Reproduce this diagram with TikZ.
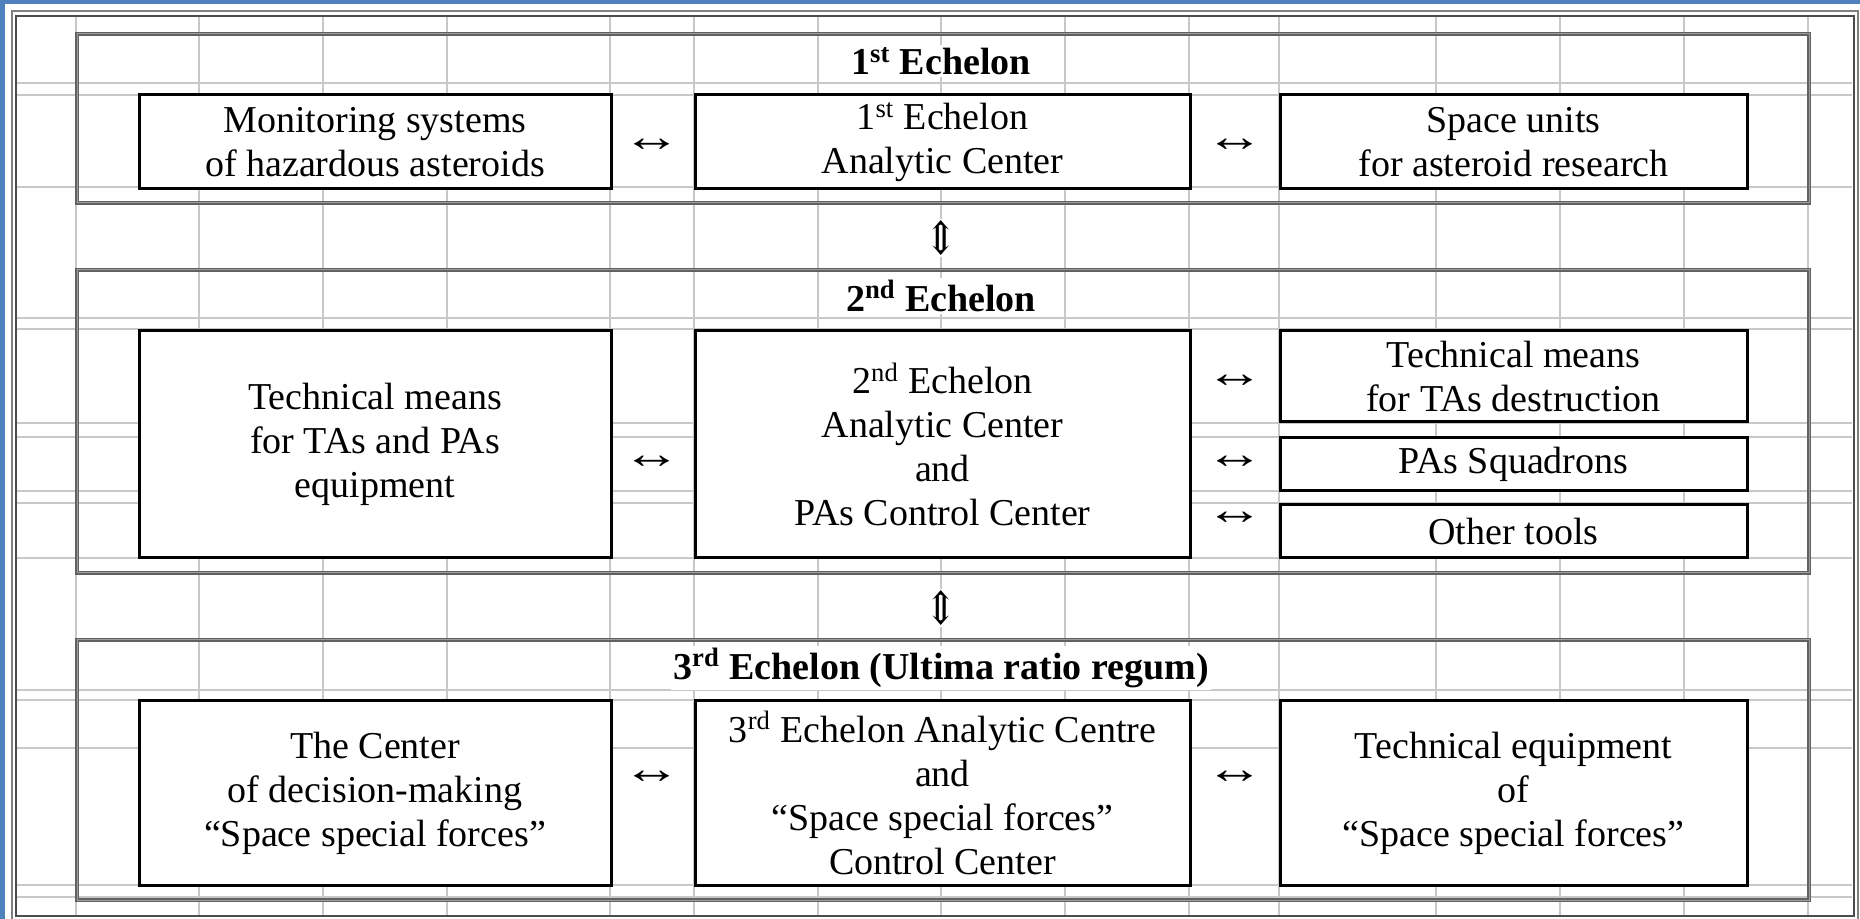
\documentclass[tikz,border=0pt]{standalone}
\usepackage{fontspec}
\setmainfont{Liberation Serif}
\newfontfamily\arrowfont{DejaVu Serif}
\definecolor{winblue}{RGB}{79,129,189}
\definecolor{gridgray}{RGB}{200,200,200}
\begin{document}
\begin{tikzpicture}[x=0.5pt,y=-0.5pt,
  gridline/.style={draw=gridgray, line width=0.8pt},
  echelon/.style={draw=black!62, double=black!38, line width=0.8pt, double distance=0.5pt},
  unit/.style={draw=black, line width=1.5pt, fill=white, align=center, inner sep=0pt,
    font=\fontsize{19}{22}\selectfont},
  title/.style={font=\bfseries\fontsize{19}{22}\selectfont, fill=white, inner sep=1pt},
  link/.style={font=\fontsize{19}{22}\selectfont, inner sep=0pt},
  updown/.style={font=\arrowfont\fontsize{19}{22}\selectfont, fill=white, inner sep=1pt}
]
\newcommand{\lr}{\scalebox{1.55}[1.15]{↔}}
\newcommand{\ud}{\scalebox{1.05}[1.2]{⇕}}
\useasboundingbox (0,0) rectangle (1860,919);
\fill[white] (0,0) rectangle (1860,919);

% window edge
\fill[winblue] (0,0) rectangle (1860,4.5);
\fill[winblue] (0,0) rectangle (4.5,919);

% page border (two rules)
\draw[draw=black!50, line width=1pt] (11.5,11.5) rectangle (1858,930);
\draw[draw=black!70, line width=1pt] (16,16) rectangle (1853.5,916);

% table grid
\foreach \gx in {76,199,323,447,610,694,818,941,1065,1189,1279,1436,1560,1684,1808}
  \draw[gridline] (\gx,17) -- (\gx,915);
\foreach \gy in {83,95,187,318,329,423,437,491,503,558,690,700,748,885,897}
  \draw[gridline] (17,\gy) -- (1852,\gy);

% echelon frames
\draw[echelon] (77,34) rectangle (1809,203);
\draw[echelon] (77,270) rectangle (1809,573);
\draw[echelon] (77,640) rectangle (1809,900);

% 1st echelon
\node[title] (t1) at (941,61) {1\textsuperscript{st} Echelon};
\node[unit, minimum width=236pt, minimum height=47pt] (a1) at (375,142)
  {Monitoring systems\\of hazardous asteroids};
\node[unit, minimum width=247.5pt, minimum height=47pt] (b1) at (942.5,142)
  {1\textsuperscript{st} Echelon\\Analytic Center};
\node[unit, minimum width=233.5pt, minimum height=47pt] (c1) at (1513.5,142)
  {Space units\\for asteroid research};
\node[link] (l1ab) at (652,145) {\lr};
\node[link] (l1bc) at (1235,145) {\lr};

\node[updown] (v12) at (941,238) {\ud};

% 2nd echelon
\node[title] (t2) at (941,296) {2\textsuperscript{nd} Echelon};
\node[unit, minimum width=236pt, minimum height=113.5pt] (a2) at (375,444.5)
  {Technical means\\for TAs and PAs\\equipment};
\node[unit, minimum width=247.5pt, minimum height=113.5pt] (b2) at (942.5,444.5)
  {2\textsuperscript{nd} Echelon\\Analytic Center\\and\\PAs Control Center};
\node[unit, minimum width=233.5pt, minimum height=45.5pt] (c21) at (1513.5,376.5)
  {Technical means\\for TAs destruction};
\node[unit, minimum width=233.5pt, minimum height=26.5pt] (c22) at (1513.5,464.5)
  {PAs Squadrons};
\node[unit, minimum width=233.5pt, minimum height=26.5pt] (c23) at (1513.5,531.5)
  {Other tools};
\node[link] (l2ab) at (652,462) {\lr};
\node[link] (l2c1) at (1235,381) {\lr};
\node[link] (l2c2) at (1235,462) {\lr};
\node[link] (l2c3) at (1235,518) {\lr};

\node[updown] (v23) at (941,608) {\ud};

% 3rd echelon
\node[title] (t3) at (941,668) {3\textsuperscript{rd} Echelon (Ultima ratio regum)};
\node[unit, minimum width=236pt, minimum height=92pt] (a3) at (375,793)
  {The Center\\of decision-making\\“Space special forces”};
\node[unit, minimum width=247.5pt, minimum height=92pt] (b3) at (942.5,793)
  {3\textsuperscript{rd} Echelon Analytic Centre\\and\\“Space special forces”\\Control Center};
\node[unit, minimum width=233.5pt, minimum height=92pt] (c3) at (1513.5,793)
  {Technical equipment\\of\\“Space special forces”};
\node[link] (l3ab) at (652,777) {\lr};
\node[link] (l3bc) at (1235,777) {\lr};
\end{tikzpicture}
\end{document}
